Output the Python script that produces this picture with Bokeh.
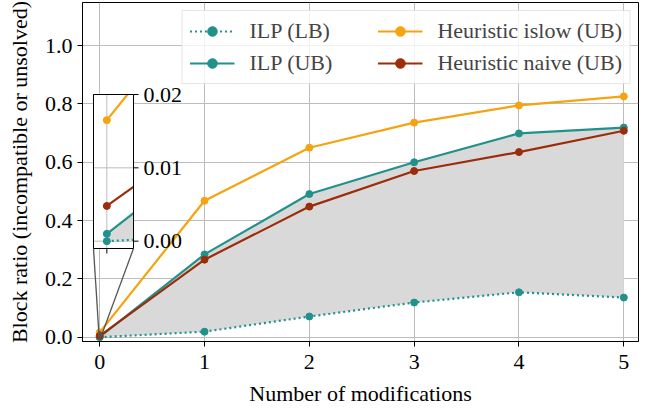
from bokeh.plotting import figure
from bokeh.models import (Range1d, FixedTicker, PrintfTickFormatter, Legend, LegendItem)
from bokeh.core.properties import value
from bokeh.embed import file_html
from bokeh.resources import INLINE

# ---------------- data ----------------
mods = [0, 1, 2, 3, 4, 5]
ilp_lb = [0.000, 0.019, 0.071, 0.119, 0.154, 0.136]
ilp_ub = [0.001, 0.284, 0.491, 0.600, 0.699, 0.719]
islow_ub = [0.0165, 0.468, 0.650, 0.736, 0.795, 0.826]
naive_ub = [0.0048, 0.266, 0.448, 0.570, 0.635, 0.708]

x_ticks = [0, 1, 2, 3, 4, 5]
y_ticks = [0.0, 0.2, 0.4, 0.6, 0.8, 1.0]
inset_y_ticks = [0.0, 0.01, 0.02]
inset_x_ticks = [0]

X_RANGE = (-0.164, 5.140)
Y_RANGE = (-0.0147, 1.148)
INSET_X = (-0.005, 0.01)
INSET_Y = (-0.001, 0.02)

TEAL = "#21918c"
ORANGE = "#f5a30f"
RED = "#9b2d0b"
FILL = "#d9d9d9"
GRID = "#bdbdbd"
CONN = "#555555"
FONT = "Liberation Serif"
FS = "22px"

# ---------------- layout (px) ----------------
FRAME_W, FRAME_H = 556, 339
BORDER_L = 82
# inset box position inside the main frame (px from frame left / frame bottom)
IN_L, IN_R = 11, 51
IN_B, IN_T = 93, 247
TICK = 5


def style_axis(ax):
    ax.major_label_text_font = FONT
    ax.major_label_text_font_size = FS
    ax.major_label_text_color = "black"
    ax.axis_label_text_font = FONT
    ax.axis_label_text_font_size = FS
    ax.axis_label_text_font_style = "normal"
    ax.axis_label_text_color = "black"
    ax.major_tick_in = 0
    ax.major_tick_out = TICK
    ax.minor_tick_in = 0
    ax.minor_tick_out = 0
    ax.major_tick_line_color = "black"
    ax.axis_line_color = "black"
    ax.major_label_standoff = 5


# extra ranges so that the inset data window maps to the inset box
def extra_range(win, a_px, b_px, total_px):
    fa, fb = a_px / total_px, b_px / total_px
    span = (win[1] - win[0]) / (fb - fa)
    start = win[0] - fa * span
    return Range1d(start, start + span)


p = figure(frame_width=FRAME_W, frame_height=FRAME_H,
           x_range=Range1d(*X_RANGE), y_range=Range1d(*Y_RANGE),
           output_backend="svg", toolbar_location=None,
           min_border_left=BORDER_L, min_border_top=2,
           min_border_right=6, min_border_bottom=0,
           background_fill_color="white", border_fill_color="white",
           outline_line_color="black", outline_line_width=1)
p.extra_x_ranges = {"inset": extra_range(INSET_X, IN_L, IN_R, FRAME_W)}
p.extra_y_ranges = {"inset": extra_range(INSET_Y, IN_B, IN_T, FRAME_H)}

style_axis(p.xaxis[0])
style_axis(p.yaxis[0])
p.xaxis[0].ticker = FixedTicker(ticks=x_ticks)
p.yaxis[0].ticker = FixedTicker(ticks=y_ticks)
p.yaxis[0].formatter = PrintfTickFormatter(format="%.1f")
p.xaxis[0].axis_label = "Number of modifications"
p.yaxis[0].axis_label = "Block ratio (incompatible or unsolved)"
p.xaxis[0].major_label_standoff = 8
p.xaxis[0].axis_label_standoff = 9
p.yaxis[0].axis_label_standoff = 10
p.xgrid.grid_line_color = GRID
p.ygrid.grid_line_color = GRID
p.xgrid.ticker = FixedTicker(ticks=x_ticks)
p.ygrid.ticker = FixedTicker(ticks=y_ticks)

# ---------------- main series ----------------
p.varea(x=mods, y1=ilp_lb, y2=ilp_ub, fill_color=FILL)
series = [(ilp_lb, TEAL, "2 3"), (ilp_ub, TEAL, None), (islow_ub, ORANGE, None), (naive_ub, RED, None)]
rs = []
for ys, col, dash in series:
    kw = {"line_dash": dash} if dash else {}
    r = p.line(mods, ys, line_color=col, line_width=2.2, **kw)
    s = p.scatter(mods, ys, size=7, fill_color=col, line_color=col)
    rs.append((r, s))

# indicator rectangle in the main axes
p.quad(left=[INSET_X[0]], right=[INSET_X[1]], bottom=[INSET_Y[0]], top=[INSET_Y[1]],
       fill_color=None, line_color=CONN, line_width=1)

# ---------------- inset (drawn in the "inset" ranges) ----------------
ix = p.extra_x_ranges["inset"]
iy = p.extra_y_ranges["inset"]
px_per_ix = FRAME_W / (ix.end - ix.start)
px_per_iy = FRAME_H / (iy.end - iy.start)


def main_to_inset_x(x):
    return ix.start + (x - X_RANGE[0]) / (X_RANGE[1] - X_RANGE[0]) * (ix.end - ix.start)


def main_to_inset_y(y):
    return iy.start + (y - Y_RANGE[0]) / (Y_RANGE[1] - Y_RANGE[0]) * (iy.end - iy.start)


IR = dict(x_range_name="inset", y_range_name="inset")

# connectors from the inset's lower corners to the indicator rectangle
p.segment(x0=[INSET_X[0], INSET_X[1]], y0=[INSET_Y[0], INSET_Y[0]],
          x1=[main_to_inset_x(INSET_X[0]), main_to_inset_x(INSET_X[1])],
          y1=[main_to_inset_y(INSET_Y[0]), main_to_inset_y(INSET_Y[0])],
          line_color=CONN, line_width=1.3, **IR)

p.quad(left=[INSET_X[0]], right=[INSET_X[1]], bottom=[INSET_Y[0]], top=[INSET_Y[1]],
       fill_color="white", line_color=None, **IR)
# inset grid
p.segment(x0=inset_x_ticks, x1=inset_x_ticks, y0=[INSET_Y[0]] * len(inset_x_ticks),
          y1=[INSET_Y[1]] * len(inset_x_ticks), line_color=GRID, line_width=1, **IR)
p.segment(x0=[INSET_X[0]] * len(inset_y_ticks), x1=[INSET_X[1]] * len(inset_y_ticks),
          y0=inset_y_ticks, y1=inset_y_ticks, line_color=GRID, line_width=1, **IR)


def clip_first_segment(ys):
    """Part of the first segment (x=0..1) inside the inset window."""
    x0, y0, x1, y1 = mods[0], ys[0], mods[1], ys[1]
    t = (INSET_X[1] - x0) / (x1 - x0)
    if y0 + t * (y1 - y0) > INSET_Y[1]:
        t = (INSET_Y[1] - y0) / (y1 - y0)
    return [x0, x0 + t * (x1 - x0)], [y0, y0 + t * (y1 - y0)]


cx, lb_c = clip_first_segment(ilp_lb)
_, ub_c = clip_first_segment(ilp_ub)
p.varea(x=cx, y1=lb_c, y2=ub_c, fill_color=FILL, **IR)
for ys, col, dash in series:
    xs_c, ys_c = clip_first_segment(ys)
    kw = {"line_dash": dash} if dash else {}
    p.line(xs_c, ys_c, line_color=col, line_width=2.2, **kw, **IR)
    p.scatter([mods[0]], [ys[0]], size=7, fill_color=col, line_color=col, **IR)

# inset frame, ticks and tick labels
p.quad(left=[INSET_X[0]], right=[INSET_X[1]], bottom=[INSET_Y[0]], top=[INSET_Y[1]],
       fill_color=None, line_color="black", line_width=1, **IR)
p.segment(x0=[INSET_X[1]] * len(inset_y_ticks),
          x1=[INSET_X[1] + TICK / px_per_ix] * len(inset_y_ticks),
          y0=inset_y_ticks, y1=inset_y_ticks, line_color="black", line_width=1, **IR)
p.segment(x0=inset_x_ticks, x1=inset_x_ticks, y0=[INSET_Y[0]] * len(inset_x_ticks),
          y1=[INSET_Y[0] - TICK / px_per_iy] * len(inset_x_ticks),
          line_color="black", line_width=1, **IR)
p.text(x=[INSET_X[1]] * len(inset_y_ticks), y=inset_y_ticks,
       text=["%.2f" % t for t in inset_y_ticks], x_offset=TICK + 5,
       text_font=value(FONT), text_font_size=FS, text_color="black",
       text_align="left", text_baseline="middle", **IR)

# ---------------- legend ----------------
labels = ["ILP (LB)", "ILP (UB)", "Heuristic islow (UB)", "Heuristic naive (UB)"]
legend = Legend(items=[LegendItem(label=l, renderers=list(r)) for l, r in zip(labels, rs)],
                ncols=2, location="top_right",
                label_text_font=FONT, label_text_font_size=FS,
                glyph_width=45, glyph_height=24, label_height=24, label_width=122,
                label_standoff=15, padding=7, spacing=6, margin=8,
                background_fill_color="white", background_fill_alpha=0.8,
                border_line_color="#cccccc", border_line_width=1)
p.add_layout(legend)

open("out.html", "w").write(file_html(p, INLINE))
